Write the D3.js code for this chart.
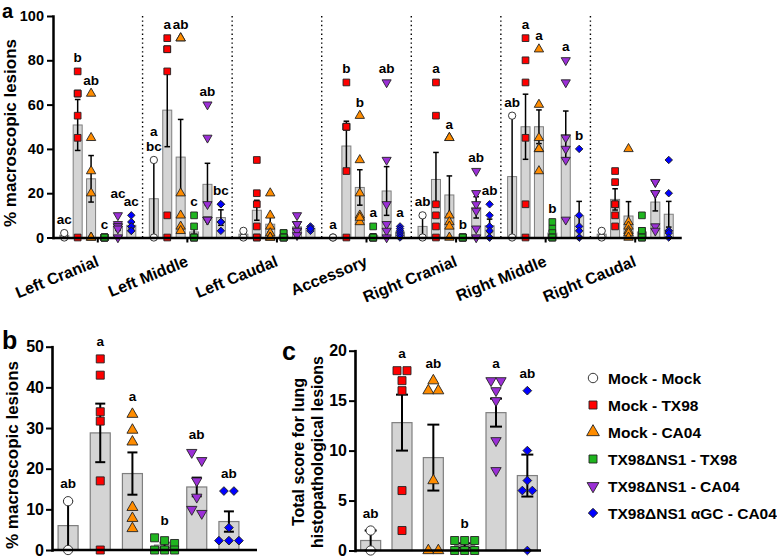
<!DOCTYPE html>
<html>
<head>
<meta charset="utf-8">
<script src="https://cdn.jsdelivr.net/npm/d3@7"></script>
<style>
body { margin: 0; background: #fff; }
text { font-family: "Liberation Sans", Arial, sans-serif; font-weight: bold; fill: #000; }
</style>
</head>
<body>
<script>
var lobes = ['Left Cranial', 'Left Middle', 'Left Caudal', 'Accessory', 'Right Cranial', 'Right Middle', 'Right Caudal'];
var groups = ['Mock - Mock', 'Mock - TX98', 'Mock - CA04', 'TX98\u0394NS1 - TX98', 'TX98\u0394NS1 - CA04', 'TX98\u0394NS1 \u03b1GC - CA04'];

// panel a: one row per lobe, one array per group
var lobePoints = [
    [[0, 2], [75, 65, 65, 55, 45, 0], [65, 45, 30, 20, 0, 0], [0, 0, 0, 0, 0, 0], [10, 6, 5, 5, 4, 0], [10, 7, 5, 5, 3, 3]],
    [[0, 35], [90, 85, 85, 75, 10, 0], [90, 90, 20, 10, 5, 3], [10, 5, 0, 0, 0, 0], [60, 45, 15, 8, 8, 8], [15, 15, 7, 7, 7, 3]],
    [[0, 3], [35, 20, 15, 5, 0, 0], [20, 10, 5, 2, 0, 0], [2, 2, 0, 0, 0, 0], [10, 6, 6, 3, 3, 1], [5, 4, 4, 4, 3, 4]],
    [[0, 0], [70, 50, 50, 50, 30, 0], [55, 35, 20, 10, 7, 9], [5, 0, 0, 0, 0, 0], [70, 35, 15, 6, 3, 0], [5, 4, 3, 2, 1, 0]],
    [[0, 10], [70, 55, 15, 10, 5, 0], [45, 45, 10, 7, 5, 0], [0, 0, 0, 0, 0, 0], [30, 20, 15, 12, 4, 0], [15, 10, 5, 3, 0, 0]],
    [[0, 55], [90, 80, 70, 45, 15, 0], [85, 60, 45, 40, 40, 30], [7, 4, 2, 0, 0, 0], [80, 70, 45, 40, 35, 8], [40, 10, 5, 3, 0, 0]],
    [[0, 3], [30, 25, 15, 15, 10, 5], [40, 7, 5, 3, 2, 0], [10, 3, 3, 0, 0, 0], [25, 25, 20, 20, 5, 3], [35, 20, 3, 3, 2, 0]]
];
var lobeMeans = [
    [1, 50.8, 26.5, 0, 5, 5.5],
    [17.5, 57.5, 36.3, 2.5, 24, 9],
    [1.5, 12.3, 6, 0.7, 4.8, 4.2],
    [0, 41.3, 22.6, 0.8, 21, 2.5],
    [5, 26.2, 19.2, 0, 13.6, 5.3],
    [27.5, 50, 50, 2, 46.5, 9.8],
    [1.5, 17.2, 9.7, 2.5, 16, 10.5]
];
var lobeSems = [
    [1, 11.5, 10.5, 0, 1.8, 1.3],
    [17.5, 16.5, 17, 1.7, 9.5, 3.5],
    [1.5, 4.5, 3.5, 0.4, 1.4, 0.4],
    [0, 11.2, 8, 0.8, 11, 0.8],
    [5, 12.2, 8.6, 0, 4.8, 3],
    [27.5, 14.7, 7.6, 1.2, 10.6, 6.5],
    [1.5, 4.8, 6.5, 1.6, 4, 5.8]
];
var lobeLetters = [
    ['ac', 'b', 'ab', 'c', 'ac', 'ac'],
    ['a\nbc', 'a', 'ab', 'c', 'ab', 'bc'],
    ['', '', '', '', '', ''],
    ['a', 'b', 'b', 'a', 'ab', 'a'],
    ['ab', 'a', 'a', 'b', 'ab', 'ab'],
    ['ab', 'a', 'a', 'b', 'a', 'b'],
    ['', '', '', '', '', '']
];
var ticksA = [0, 20, 40, 60, 80, 100];

// panel b: whole lung
var bPoints = [[0, 12], [47, 43, 34, 31.7, 17, 0], [33.4, 29.5, 26.6, 10.5, 7.8, 5.3], [3, 2.3, 1.6, 0, 0, 0], [24, 22, 17, 13, 10, 9], [14.5, 14.5, 5.5, 2.3, 2.3, 2.3]];
var bMeans = [6, 28.8, 18.8, 1.2, 15.5, 7];
var bSems = [6, 7.2, 5.2, 0.6, 2.3, 2.5];
var bLetters = ['ab', 'a', 'a', 'b', 'ab', 'ab'];
var ticksB = [0, 10, 20, 30, 40, 50];

// panel c: histopathology score
var cPoints = [[0, 2], [18, 18, 17, 16, 6, 2], [17, 16, 16, 7, 0, 0], [1, 1, 1, 0, 0, 0], [17, 17, 16, 15, 11, 8], [16, 10, 7, 6, 6, 0]];
var cMeans = [1, 12.8, 9.3, 0.5, 13.8, 7.5];
var cSems = [1, 2.8, 3.3, 0.22, 1.4, 2.1];
var cLetters = ['ab', 'a', 'ab', 'b', 'a', 'ab'];
var ticksC = [0, 5, 10, 15, 20];

var colors = ['#ffffff', '#ff0000', '#ff8c00', '#1fb51f', '#9b2fd6', '#0000ff'];
var shapes = [d3.symbolCircle, d3.symbolSquare, d3.symbolTriangle, d3.symbolSquare, d3.symbolTriangle, d3.symbolSquare];
var turns = [0, 0, 0, 0, 180, 45];
// extra lift (px) for letters that would collide with a neighbour
var liftA = [[0, 0, 0, 0, 8, 0], [0, 0, 0, 0, 0, 0], [0, 0, 0, 0, 0, 0], [0, 0, 0, 0, 0, 0], [0, 0, 0, 0, 0, 0], [0, 0, 0, 0, 0, 0], [0, 0, 0, 0, 0, 0]];

var svg = d3.select('body').append('svg')
    .attr('width', 777)
    .attr('height', 558);

function mark(g, i, x, y, area) {
    g.append('path')
        .attr('d', d3.symbol(shapes[i], area)())
        .attr('transform', 'translate(' + x + ',' + y + ') rotate(' + turns[i] + ')')
        .attr('fill', colors[i])
        .attr('stroke', '#222')
        .attr('stroke-width', 0.9);
}

function errorBar(g, x, y, m, s, half, w) {
    if (s <= 0) return;
    var lo = y(Math.max(0, m - s)), hi = y(m + s);
    g.append('line').attr('x1', x).attr('x2', x).attr('y1', lo).attr('y2', hi)
        .attr('stroke', '#000').attr('stroke-width', w);
    [lo, hi].forEach(function (yy) {
        g.append('line').attr('x1', x - half).attr('x2', x + half).attr('y1', yy).attr('y2', yy)
            .attr('stroke', '#000').attr('stroke-width', w);
    });
}

function letter(g, x, yTop, txt, size) {
    if (!txt) return;
    var lines = txt.split('\n');
    lines.forEach(function (t, k) {
        g.append('text')
            .attr('x', x)
            .attr('y', yTop - (lines.length - 1 - k) * 15)
            .attr('text-anchor', 'middle')
            .style('font-size', size + 'px')
            .text(t);
    });
}

// spread points of similar value side by side
function swarm(vals, y, gap, step) {
    var sorted = vals.slice().sort(function (a, b) { return b - a; });
    var rows = [];
    sorted.forEach(function (v) {
        var row = rows[rows.length - 1];
        if (row && y(v) - y(row[0]) < gap) row.push(v);
        else rows.push([v]);
    });
    var out = [];
    rows.forEach(function (row) {
        row.forEach(function (v, k) {
            out.push({ v: v, dx: (k - (row.length - 1) / 2) * step });
        });
    });
    return out;
}

function styleAxis(ax, fs, w) {
    ax.select('.domain').attr('stroke-width', w).attr('stroke-linecap', 'square');
    ax.selectAll('.tick line').attr('stroke-width', 2);
    ax.selectAll('.tick text').style('font-size', fs + 'px').style('font-family', '"Liberation Sans", Arial, sans-serif').style('font-weight', 'bold');
}

// ---------- panel a ----------
var yA = d3.scaleLinear().domain([0, 100]).range([237.5, 16]);
var x0 = d3.scaleBand().domain(lobes).range([53, 680]);
var x1 = d3.scaleBand().domain(groups).range([0, x0.bandwidth()]).paddingOuter(0.34);
var pa = svg.append('g');

lobes.forEach(function (lobe, li) {
    if (li > 0) {
        pa.append('line')
            .attr('x1', x0(lobe)).attr('x2', x0(lobe))
            .attr('y1', yA(100)).attr('y2', yA(0))
            .attr('stroke', '#000').attr('stroke-width', 1.4)
            .attr('stroke-dasharray', '1.4,3');
    }
    groups.forEach(function (grp, gi) {
        var cx = x0(lobe) + x1(grp) + x1.bandwidth() / 2;
        var m = lobeMeans[li][gi], s = lobeSems[li][gi];
        pa.append('rect')
            .attr('x', cx - 4.5).attr('width', 9)
            .attr('y', yA(m)).attr('height', yA(0) - yA(m))
            .attr('fill', '#d4d4d4').attr('stroke', '#7f7f7f').attr('stroke-width', 1);
        errorBar(pa, cx, yA, m, s, 2.8, 1.5);
        var areas = [42, 45, 38, 45, 36, 28];
        lobePoints[li][gi].forEach(function (v) {
            mark(pa, gi, cx, yA(v), areas[gi]);
        });
        var top = Math.max(d3.max(lobePoints[li][gi]), m + s);
        letter(pa, cx, yA(top) - 9 - liftA[li][gi], lobeLetters[li][gi], 13.5);
    });
});

var axA = pa.append('g').attr('transform', 'translate(53,0)')
    .call(d3.axisLeft(yA).tickValues(ticksA).tickSize(6).tickSizeOuter(0).tickPadding(3));
styleAxis(axA, 14.5, 2.5);

var axAx = pa.append('g').attr('transform', 'translate(0,' + yA(0) + ')')
    .call(d3.axisBottom(x0).tickSize(5).tickSizeOuter(0));
styleAxis(axAx, 16, 2.5);
axAx.selectAll('.tick text')
    .attr('x', 0).attr('y', 0).attr('dy', 0)
    .attr('text-anchor', 'end')
    .attr('transform', 'translate(2,28) rotate(-22)');

pa.append('text')
    .attr('transform', 'translate(16,133) rotate(-90)')
    .attr('text-anchor', 'middle')
    .style('font-size', '17px')
    .text('% macroscopic lesions');

// ---------- panels b and c ----------
function smallPanel(g, x, y, pts, means, sems, letters, ticks, axisEnd, half) {
    var areas = [68, 64, 52, 64, 46, 38];
    groups.forEach(function (grp, gi) {
        var cx = x(grp) + x.bandwidth() / 2;
        var m = means[gi], s = sems[gi];
        g.append('rect')
            .attr('x', cx - 10).attr('width', 20)
            .attr('y', y(m)).attr('height', y(0) - y(m))
            .attr('fill', '#d4d4d4').attr('stroke', '#7f7f7f').attr('stroke-width', 1.2);
        errorBar(g, cx, y, m, s, half, 2);
        swarm(pts[gi], y, 9, 10).forEach(function (p) {
            mark(g, gi, cx + p.dx, y(p.v), areas[gi]);
        });
        var top = Math.max(d3.max(pts[gi]), m + s);
        letter(g, cx, y(top) - 13, letters[gi], 13.5);
    });
    var x0p = x.range()[0];
    var ax = g.append('g').attr('transform', 'translate(' + x0p + ',0)')
        .call(d3.axisLeft(y).tickValues(ticks).tickSize(6).tickSizeOuter(0).tickPadding(2));
    styleAxis(ax, 16, 2.6);
    g.append('line')
        .attr('x1', x0p).attr('x2', axisEnd)
        .attr('y1', y(0)).attr('y2', y(0))
        .attr('stroke', '#000').attr('stroke-width', 2.6);
}

var yB = d3.scaleLinear().domain([0, 50]).range([550, 346.7]);
var xB = d3.scaleBand().domain(groups).range([52, 245]);
smallPanel(svg.append('g'), xB, yB, bPoints, bMeans, bSems, bLetters, ticksB, 257, 5);
svg.append('text')
    .attr('transform', 'translate(18,455) rotate(-90)')
    .attr('text-anchor', 'middle')
    .style('font-size', '17px')
    .text('% macroscopic lesions');

var yC = d3.scaleLinear().domain([0, 20]).range([550.5, 350.7]);
var xC = d3.scaleBand().domain(groups).range([355, 543]);
smallPanel(svg.append('g'), xC, yC, cPoints, cMeans, cSems, cLetters, ticksC, 541, 6);
svg.append('text')
    .attr('transform', 'translate(304,452) rotate(-90)')
    .attr('text-anchor', 'middle')
    .style('font-size', '16px')
    .text('Total score for lung');
svg.append('text')
    .attr('transform', 'translate(323,452) rotate(-90)')
    .attr('text-anchor', 'middle')
    .style('font-size', '16px')
    .text('histopathological lesions');

// ---------- legend ----------
var legend = svg.append('g');
var legendAreas = [70, 64, 70, 64, 60, 44];
groups.forEach(function (grp, gi) {
    var ly = 378 + gi * 27;
    mark(legend, gi, 593, ly, legendAreas[gi]);
    legend.append('text')
        .attr('x', 608).attr('y', ly + 5.5)
        .style('font-size', '15.5px')
        .text(grp);
});

// panel letters
[['a', 2, 18, 20], ['b', 2, 349, 25], ['c', 282, 360, 25]].forEach(function (p) {
    svg.append('text').attr('x', p[1]).attr('y', p[2]).style('font-size', p[3] + 'px').text(p[0]);
});
</script>
</body>
</html>
